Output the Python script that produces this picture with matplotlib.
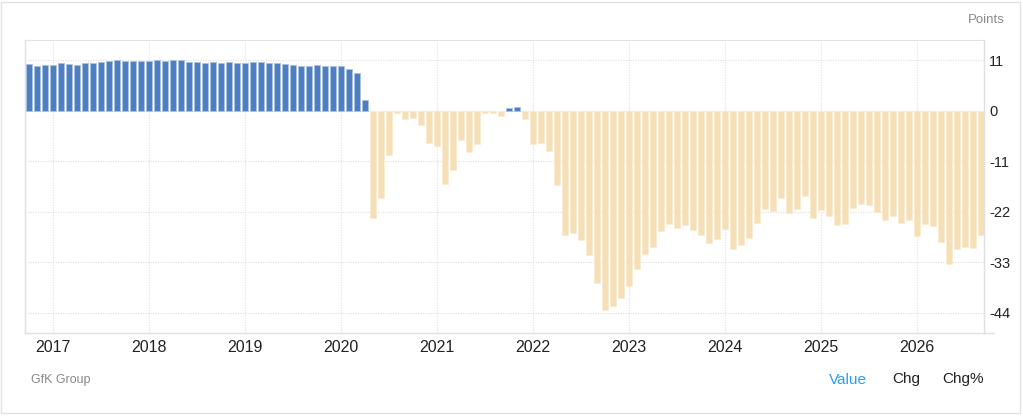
import numpy as np
import pandas as pd
import matplotlib
matplotlib.use("Agg")
import matplotlib.pyplot as plt
from matplotlib.patches import Rectangle

plt.rcParams["font.family"] = ["Liberation Sans", "DejaVu Sans"]

# ── Data: GfK consumer climate, monthly, Oct 2016 .. Sep 2026 ─────────────────
MONTHS = pd.period_range("2016-10", "2026-09", freq="M")

VALUES = [
    10.1, 9.7, 9.9,                                                   # 2016 Q4
    9.9, 10.3, 10.1, 9.9, 10.3, 10.3, 10.5, 10.7, 11.0, 10.7, 10.7, 10.7,   # 2017
    10.7, 11.0, 10.7, 11.0, 11.0, 10.5, 10.5, 10.3, 10.5, 10.3, 10.5, 10.3,  # 2018
    10.3, 10.5, 10.5, 10.3, 10.3, 10.1, 9.9, 9.7, 9.7, 9.9, 9.7, 9.7,       # 2019
    9.7, 9.0, 8.1, 2.3, -23.3, -18.9, -9.6, -0.6, -1.9, -1.7, -3.2, -7.0,   # 2020
    -7.6, -15.9, -13.0, -6.3, -8.9, -7.2, -0.6, -0.6, -1.1, 0.5, 0.7, -1.9, # 2021
    -7.2, -7.0, -8.7, -16.1, -27.0, -26.6, -28.1, -31.3, -37.5, -43.4, -42.4, -40.7,  # 2022
    -38.1, -34.4, -31.1, -29.6, -26.2, -24.6, -25.6, -24.8, -26.0, -27.1, -28.7, -27.9,  # 2023
    -25.8, -30.0, -29.2, -27.7, -24.4, -21.4, -21.8, -18.9, -22.2, -21.4, -18.6, -23.3,  # 2024
    -21.6, -22.9, -24.8, -24.6, -21.2, -20.3, -20.5, -22.0, -23.7, -22.9, -24.4, -23.7,  # 2025
    -27.2, -24.6, -25.0, -28.5, -33.4, -30.0, -29.6, -29.8, -27.0,                      # 2026
]

Y_TICKS = [11, 0, -11, -22, -33, -44]
SOURCE = "GfK Group"
UNIT = "Points"
BUTTONS = ["Value", "Chg", "Chg%"]

# ── Style ─────────────────────────────────────────────────────────────────────
BLUE = "#4f7fbf"
TAN = "#f6dfb4"
GRID = "#e3e3e3"
TEXT = "#222222"
MUTED = "#8a8a8a"
LINK = "#2d9bf0"

W, H = 1023, 416
fig = plt.figure(figsize=(W / 100, H / 100), dpi=100)

# outer card border
fig.patches.append(Rectangle((1 / W, 1 - 413 / H), 1019 / W, 411 / H,
                             transform=fig.transFigure, fill=False,
                             edgecolor="#e2e2e2", linewidth=1.0))

ax = fig.add_axes([25.3 / W, 1 - 332.7 / H, (984.3 - 25.3) / W, (332.7 - 40.3) / H])

x = np.arange(len(MONTHS))
vals = np.array(VALUES)
colors = [BLUE if v >= 0 else TAN for v in vals]
edges = ["#a9c2e2" if v >= 0 else "#f9ecd4" for v in vals]
ax.bar(x, vals, width=0.78, color=colors, edgecolor=edges, linewidth=0.6, zorder=3)

ax.set_xlim(-0.5, len(MONTHS) - 0.55)
ax.set_ylim(-48.3, 15.3)

# year ticks at January positions
jan_idx = [i for i, p in enumerate(MONTHS) if p.month == 1]
ax.set_xticks(jan_idx)
ax.set_xticklabels([str(MONTHS[i].year) for i in jan_idx], fontsize=11.5, color=TEXT)

ax.set_yticks(Y_TICKS)
ax.set_yticklabels([str(t) for t in Y_TICKS], fontsize=10.5, color=TEXT)
ax.yaxis.tick_right()
ax.tick_params(axis="both", length=0)
ax.tick_params(axis="y", pad=3.5)
ax.tick_params(axis="x", pad=5)

ax.grid(True, color=GRID, linestyle=(0, (1, 1)), linewidth=0.9, zorder=0)

for side in ["left", "right", "bottom"]:
    ax.spines[side].set_color("#e0e0e0")
    ax.spines[side].set_linewidth(1.0)
ax.spines["top"].set_color(GRID)
ax.spines["top"].set_linestyle((0, (1, 1)))

# small extension of the bottom rule past the right axis
ax.plot([1.0, 1.01], [0, 0], transform=ax.transAxes, color="#e0e0e0",
        linewidth=1.0, clip_on=False)

fig.text(1005 / W, 1 - 20 / H, UNIT, ha="right", va="center", fontsize=9.5, color=MUTED)
fig.text(31 / W, 1 - 379.5 / H, SOURCE, ha="left", va="center", fontsize=9, color=MUTED)

for label, cx, c in zip(BUTTONS, [848, 906, 963], [LINK, TEXT, TEXT]):
    fig.text(cx / W, 1 - 379.5 / H, label, ha="center", va="center",
             fontsize=11, color=c)

fig.savefig("out.png", dpi=100)
